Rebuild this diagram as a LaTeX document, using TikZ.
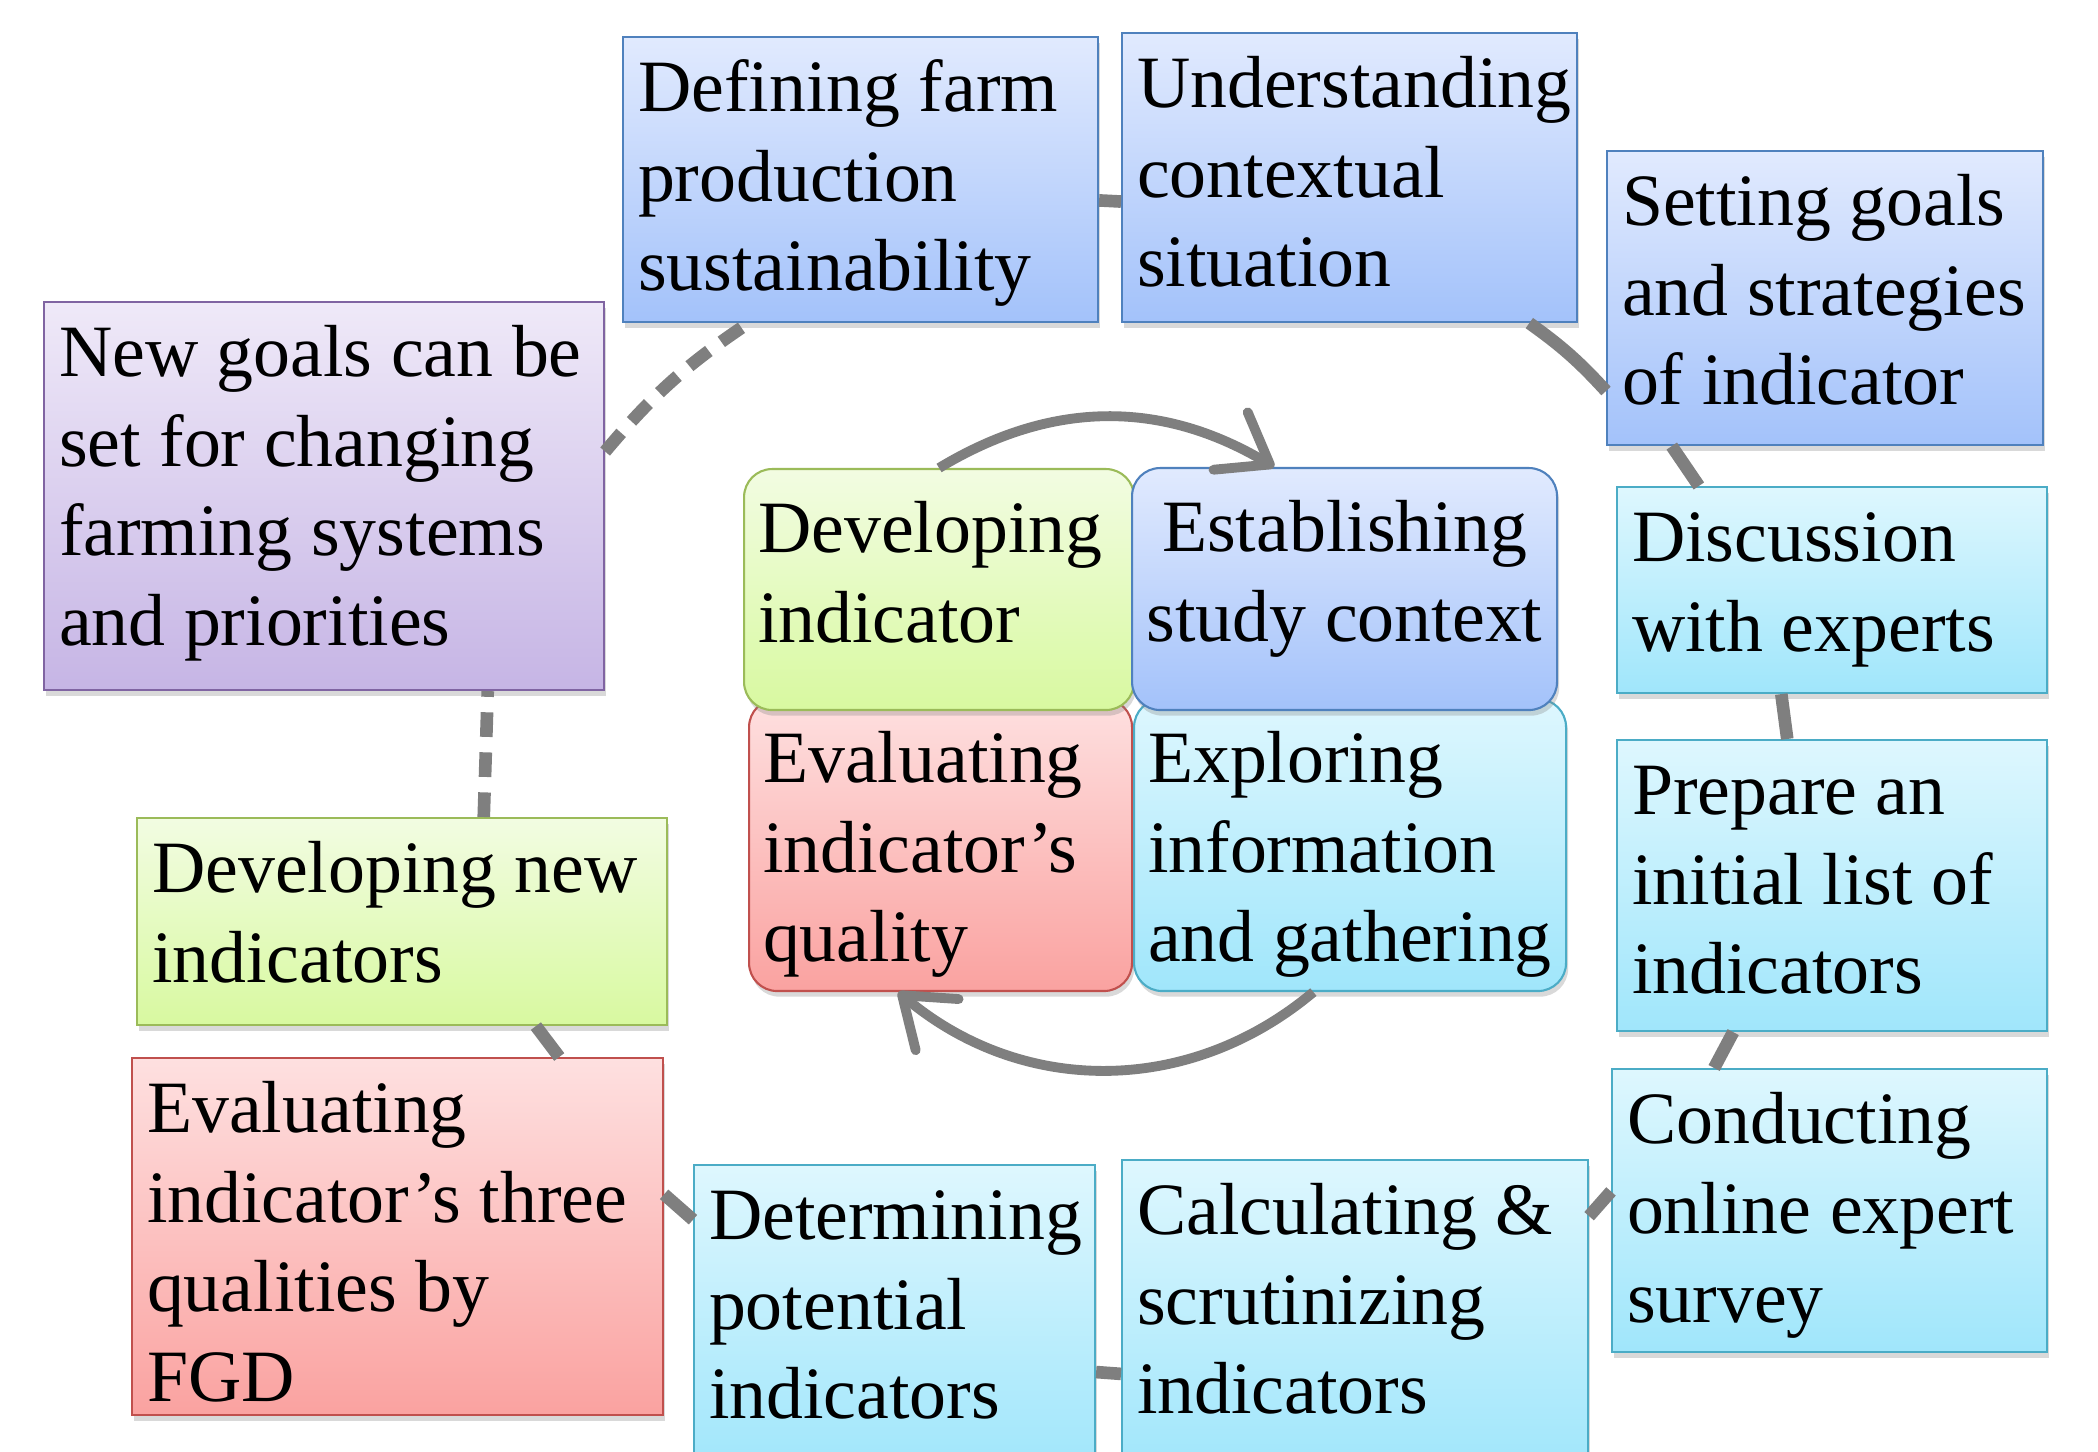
\documentclass[tikz,border=0pt]{standalone}
\usepackage{fontspec}
\setmainfont{Liberation Serif}
\usetikzlibrary{arrows.meta,shadows}

\definecolor{bluetop}{RGB}{225,234,254}
\definecolor{bluebot}{RGB}{163,194,250}
\definecolor{bluedraw}{RGB}{79,129,189}
\definecolor{cyantop}{RGB}{222,247,254}
\definecolor{cyanbot}{RGB}{160,230,251}
\definecolor{cyandraw}{RGB}{75,172,198}
\definecolor{greentop}{RGB}{242,252,226}
\definecolor{greenbot}{RGB}{216,249,160}
\definecolor{greendraw}{RGB}{155,187,89}
\definecolor{redtop}{RGB}{254,224,224}
\definecolor{redbot}{RGB}{250,162,160}
\definecolor{reddraw}{RGB}{192,80,77}
\definecolor{purptop}{RGB}{239,233,248}
\definecolor{purpbot}{RGB}{198,181,229}
\definecolor{purpdraw}{RGB}{128,100,162}
\definecolor{linegray}{RGB}{127,127,127}

\begin{document}
\begin{tikzpicture}[
    box/.style={draw, anchor=north west, inner ysep=0pt, inner xsep=0.15cm,
      align=flush left, line width=0.6pt, font=\fontsize{21}{25.6}\selectfont,
      text height=0.74cm,
      drop shadow={opacity=0.3, shadow xshift=0.6pt, shadow yshift=-1.6pt}},
    cbox/.style={box, rounded corners=8pt, inner xsep=0.14cm, text height=0.83cm},
    blu/.style={draw=bluedraw, top color=bluetop, bottom color=bluebot},
    cya/.style={draw=cyandraw, top color=cyantop, bottom color=cyanbot},
    grn/.style={draw=greendraw, top color=greentop, bottom color=greenbot},
    rd/.style={draw=reddraw, top color=redtop, bottom color=redbot},
    prp/.style={draw=purpdraw, top color=purptop, bottom color=purpbot},
    ring/.style={line width=3.6pt, linegray},
    cyc/.style={line width=2.8pt, linegray, -{Straight Barb[length=13pt,width=19pt,round]}},
  ]
  \useasboundingbox (0,0) rectangle (20.98,14.52);

  % outer cycle
  \node[box, blu, text width=4.45cm, text depth=2.11cm] (def) at (6.22,14.16)
    {Defining~farm\\production\\sustainability};
  \node[box, blu, text width=4.25cm, text depth=2.15cm] (und) at (11.21,14.20)
    {Understanding\\contextual\\situation};
  \node[box, blu, text width=4.06cm, text depth=2.20cm] (goal) at (16.06,13.02)
    {Setting~goals\\and~strategies\\of~indicator};
  \node[box, cya, text width=4.00cm, text depth=1.32cm] (disc) at (16.16,9.66)
    {Discussion\\with~experts};
  \node[box, cya, text width=4.00cm, text depth=2.17cm] (prep) at (16.16,7.13)
    {Prepare~an\\initial~list~of\\indicators};
  \node[box, cya, text width=4.05cm, text depth=2.09cm] (surv) at (16.11,3.84)
    {Conducting\\online~expert\\survey};
  \node[box, cya, text width=4.36cm, text depth=2.37cm] (calc) at (11.21,2.93)
    {Calculating~\&\\scrutinizing\\indicators};
  \node[box, cya, text width=3.71cm, text depth=2.32cm] (pot) at (6.93,2.88)
    {Determining\\potential\\indicators};
  \node[box, rd, text width=5.01cm, text depth=2.83cm] (fgd) at (1.31,3.95)
    {Evaluating\\indicator’s~three\\qualities~by\\FGD};
  \node[box, grn, text width=5.00cm, text depth=1.33cm] (newind) at (1.36,6.35)
    {Developing~new\\indicators};
  \node[box, prp, text width=5.30cm, text depth=3.14cm] (newgoal) at (0.43,11.51)
    {New~goals~can~be\\set~for~changing\\farming~systems\\and~priorities};

  \draw[ring] (def.-5) -- (und.186);
  \draw[ring] (und.-39) to[bend left=6] (goal.203);
  \draw[ring] (goal.224) -- (disc.142);
  \draw[ring] (disc.244) -- (prep.107);
  \draw[ring] (prep.236) -- (surv.129);
  \draw[ring] (surv.175) -- (calc.23);
  \draw[ring] (calc.194) -- (pot.-15);
  \draw[ring] (pot.154) -- (fgd.9.5);
  \draw[ring] (fgd.48) -- (newind.-38);
  \draw[ring, dash pattern=on 7pt off 4.4pt] (newind.52) -- (newgoal.-50);
  \draw[ring, dash pattern=on 7pt off 4.4pt] (newgoal.9.5) to[bend left=8] (def.232);

  % inner cycle
  \node[cbox, rd, text width=3.55cm, text depth=2.09cm] (qual) at (7.48,7.54)
    {Evaluating\\indicator’s\\quality};
  \node[cbox, cya, text width=4.04cm, text depth=2.09cm] (expl) at (11.33,7.54)
    {Exploring\\information\\and~gathering};
  \node[cbox, grn, text width=3.62cm, text depth=1.58cm] (dev) at (7.43,9.84)
    {Developing\\indicator};
  \node[cbox, blu, align=flush center, text width=3.97cm, text depth=1.59cm] (est) at (11.31,9.85)
    {Establishing\\study~context};

  \draw[cyc] (dev.north) to[bend left=31] (est.120);
  \draw[cyc] (expl.256) to[bend left=40] (qual.254);
\end{tikzpicture}
\end{document}
